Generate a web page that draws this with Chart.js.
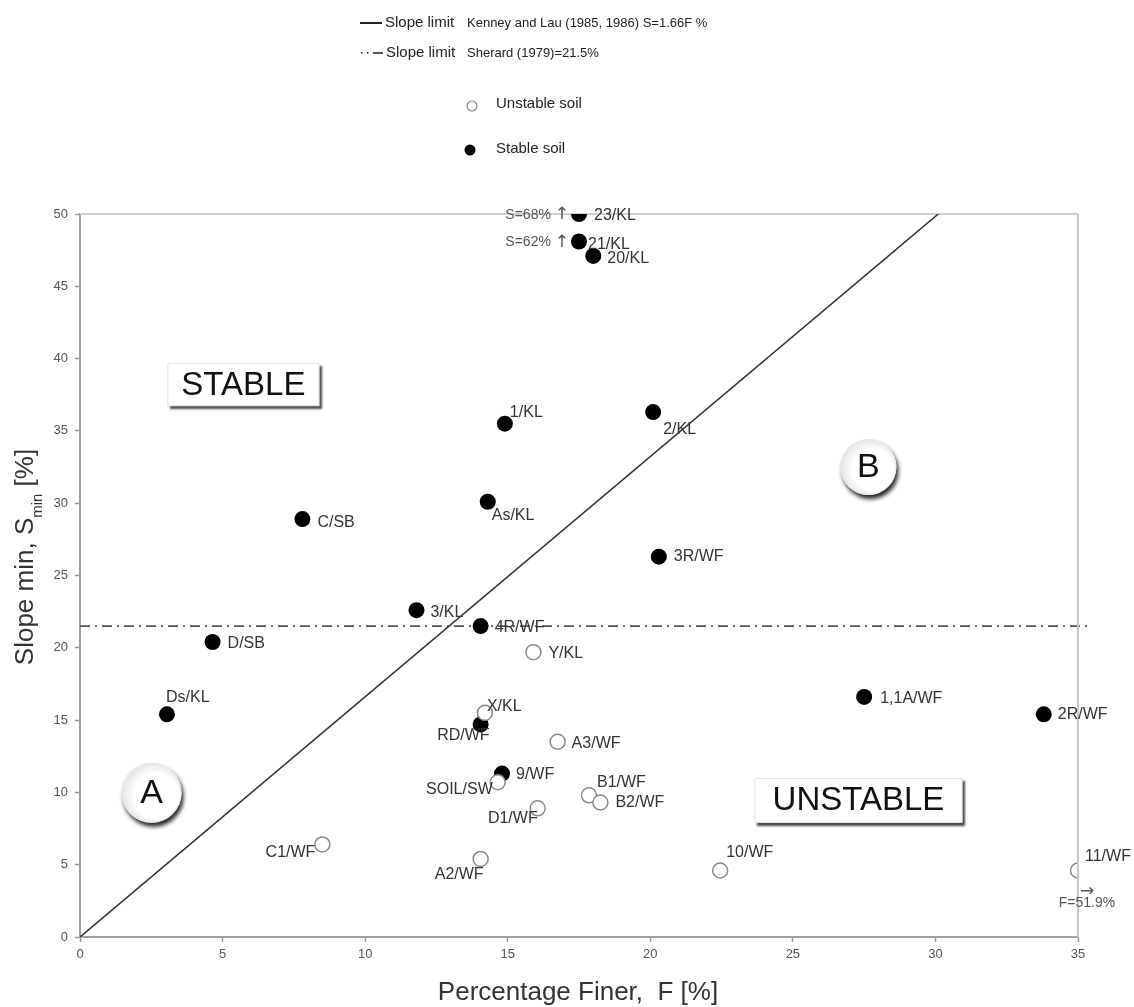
<!DOCTYPE html>
<html>
<head>
<meta charset="utf-8">
<script src="https://cdn.jsdelivr.net/npm/chart.js@4.4.0/dist/chart.umd.min.js"></script>
<style>
  html, body { margin: 0; padding: 0; background: #fff; }
  canvas { display: block; }
</style>
</head>
<body>
<canvas id="soilChart" width="1134" height="1007"></canvas>
<script>
// stable soils (filled circles)
var stableNames = ["23/KL", "21/KL", "20/KL", "1/KL", "2/KL", "As/KL", "C/SB", "3R/WF", "3/KL", "4R/WF", "D/SB", "Ds/KL", "RD/WF", "9/WF", "1,1A/WF", "2R/WF"];
var stableF = [17.5, 17.5, 18.0, 14.9, 20.1, 14.3, 7.8, 20.3, 11.8, 14.05, 4.65, 3.05, 14.05, 14.8, 27.5, 33.8];
var stableS = [50.0, 48.1, 47.1, 35.5, 36.3, 30.1, 28.9, 26.3, 22.6, 21.5, 20.4, 15.4, 14.7, 11.3, 16.6, 15.4];

// unstable soils (open circles)
var unstableNames = ["Y/KL", "X/KL", "A3/WF", "SOIL/SW", "B1/WF", "B2/WF", "D1/WF", "C1/WF", "A2/WF", "10/WF", "11/WF"];
var unstableF = [15.9, 14.2, 16.75, 14.65, 17.85, 18.25, 16.05, 8.5, 14.05, 22.45, 35.0];
var unstableS = [19.7, 15.5, 13.5, 10.7, 9.8, 9.3, 8.9, 6.4, 5.4, 4.6, 4.6];

// off-scale notes
var noteNames = ["23/KL", "21/KL", "11/WF"];
var noteTexts = ["S=68% \u2191", "S=62% \u2191", "\u2192\nF=51.9%"];

// limit lines
var kenneyF = [0, 30.1];
var kenneyS = [0, 50];
var sherardF = [0, 35.4];
var sherardS = [21.5, 21.5];

var xTickValues = [0, 5, 10, 15, 20, 25, 30, 35];
var yTickValues = [0, 5, 10, 15, 20, 25, 30, 35, 40, 45, 50];

// label placement: dx, dy, align (pixels from the point)
var labelPlace = {
  "23/KL": [15, 2, "left"], "21/KL": [9, 3, "left"], "20/KL": [14, 3, "left"],
  "1/KL": [5, -11, "left"], "2/KL": [10, 17, "left"], "As/KL": [4, 14, "left"],
  "C/SB": [15, 3, "left"], "3R/WF": [15, 0, "left"], "3/KL": [14, 2, "left"],
  "4R/WF": [14, 1, "left"], "D/SB": [15, 2, "left"], "Ds/KL": [-1, -17, "left"],
  "RD/WF": [9, 11, "right"], "9/WF": [14, 1, "left"], "1,1A/WF": [16, 2, "left"],
  "2R/WF": [14, 0, "left"], "Y/KL": [15, 1, "left"], "X/KL": [2, -6, "left"],
  "A3/WF": [14, 2, "left"], "SOIL/SW": [-5, 7, "right"], "B1/WF": [8, -13, "left"],
  "B2/WF": [15, 0, "left"], "D1/WF": [0, 10, "right"], "C1/WF": [-7, 8, "right"],
  "A2/WF": [3, 16, "right"], "10/WF": [6, -18, "left"], "11/WF": [7, -14, "left"]
};
var notePlace = {
  "23/KL": [-10, 1, "right"], "21/KL": [-10, 1, "right"], "11/WF": [9, 21, "center"]
};

var labelFont = '16px "Liberation Sans", Arial, sans-serif';
var noteFont = '14px "Liberation Sans", Arial, sans-serif';
var arrowFont = '17px "DejaVu Sans", sans-serif';

function toPoints(xs, ys) {
  return xs.map(function (v, i) { return { x: v, y: ys[i] }; });
}

// draws a string whose arrow characters use a larger font
function drawNote(ctx, text, x, y, align) {
  var runs = [], cur = "";
  for (var i = 0; i < text.length; i++) {
    var c = text.charCodeAt(i);
    if (c >= 0x2190 && c <= 0x21ff) {
      if (cur) runs.push([cur, noteFont]);
      runs.push([text[i], arrowFont]);
      cur = "";
    } else {
      cur += text[i];
    }
  }
  if (cur) runs.push([cur, noteFont]);
  var total = 0;
  runs.forEach(function (r) { ctx.font = r[1]; r.push(ctx.measureText(r[0]).width); total += r[2]; });
  var sx = align === "right" ? x - total : align === "center" ? x - total / 2 : x;
  ctx.textAlign = "left";
  runs.forEach(function (r) {
    ctx.font = r[1];
    ctx.fillText(r[0], sx, y);
    sx += r[2];
  });
}

function shadowBox(ctx, cx, cy, w, h, text) {
  ctx.save();
  ctx.shadowColor = "rgba(0,0,0,0.7)";
  ctx.shadowOffsetX = 3;
  ctx.shadowOffsetY = 3;
  ctx.shadowBlur = 2;
  ctx.fillStyle = "#fff";
  ctx.fillRect(cx - w / 2, cy - h / 2, w, h);
  ctx.restore();
  ctx.save();
  ctx.strokeStyle = "#e2e2e2";
  ctx.lineWidth = 1;
  ctx.strokeRect(cx - w / 2 + 0.5, cy - h / 2 + 0.5, w - 1, h - 1);
  ctx.fillStyle = "#111";
  ctx.font = '33px "Liberation Sans", Arial, sans-serif';
  ctx.textAlign = "center";
  ctx.textBaseline = "middle";
  ctx.fillText(text, cx, cy + 1);
  ctx.restore();
}

function shadowCircle(ctx, cx, cy, r, text) {
  ctx.save();
  ctx.shadowColor = "rgba(0,0,0,0.85)";
  ctx.shadowOffsetX = 2;
  ctx.shadowOffsetY = 4;
  ctx.shadowBlur = 4;
  ctx.beginPath();
  ctx.arc(cx, cy, r, 0, Math.PI * 2);
  ctx.fillStyle = "#fff";
  ctx.fill();
  ctx.restore();
  ctx.save();
  var g = ctx.createRadialGradient(cx + 5, cy + 3, r * 0.75, cx, cy, r);
  g.addColorStop(0, "rgba(255,255,255,1)");
  g.addColorStop(1, "rgba(228,228,228,1)");
  ctx.beginPath();
  ctx.arc(cx, cy, r, 0, Math.PI * 2);
  ctx.fillStyle = g;
  ctx.fill();
  ctx.fillStyle = "#111";
  ctx.font = '34px "Liberation Sans", Arial, sans-serif';
  ctx.textAlign = "center";
  ctx.textBaseline = "middle";
  ctx.fillText(text, cx, cy + 1);
  ctx.restore();
}

var soilPlugin = {
  id: "soilPlugin",
  beforeDatasetsDraw: function (chart) {
    var ctx = chart.ctx, a = chart.chartArea;
    ctx.save();
    ctx.strokeStyle = "#cfcfcf";
    ctx.lineWidth = 2;
    ctx.beginPath();
    ctx.moveTo(a.left, a.top);
    ctx.lineTo(a.right, a.top);
    ctx.stroke();
    ctx.restore();

    var xs = chart.scales.x, ys = chart.scales.y;
    shadowBox(ctx, xs.getPixelForValue(5.73), ys.getPixelForValue(38.2), 152, 43, "STABLE");
    shadowBox(ctx, xs.getPixelForValue(27.3), ys.getPixelForValue(9.45), 208, 45, "UNSTABLE");
    shadowCircle(ctx, xs.getPixelForValue(2.51), ys.getPixelForValue(9.97), 30, "A");
    shadowCircle(ctx, xs.getPixelForValue(27.65), ys.getPixelForValue(32.5), 28, "B");
  },
  afterDatasetsDraw: function (chart) {
    var ctx = chart.ctx, a = chart.chartArea;
    var xs = chart.scales.x, ys = chart.scales.y;

    ctx.save();
    ctx.strokeStyle = "#c8c8c8";
    ctx.lineWidth = 2;
    ctx.beginPath();
    ctx.moveTo(a.right, a.top);
    ctx.lineTo(a.right, a.bottom);
    ctx.stroke();
    ctx.restore();

    var names = stableNames.concat(unstableNames);
    var fs = stableF.concat(unstableF);
    var ss = stableS.concat(unstableS);

    ctx.save();
    ctx.fillStyle = "#333";
    ctx.font = labelFont;
    ctx.textBaseline = "middle";
    names.forEach(function (n, i) {
      var p = labelPlace[n];
      ctx.textAlign = p[2];
      ctx.fillText(n, xs.getPixelForValue(fs[i]) + p[0], ys.getPixelForValue(ss[i]) + p[1]);
    });

    ctx.fillStyle = "#555";
    noteNames.forEach(function (n, i) {
      var k = names.indexOf(n);
      var p = notePlace[n];
      var lines = noteTexts[i].split("\n");
      lines.forEach(function (t, j) {
        drawNote(ctx, t, xs.getPixelForValue(fs[k]) + p[0], ys.getPixelForValue(ss[k]) + p[1] + j * 12, p[2]);
      });
    });
    ctx.restore();
  },
  afterDraw: function (chart) {
    var ctx = chart.ctx;
    ctx.save();
    ctx.fillStyle = "#222";
    ctx.strokeStyle = "#222";
    ctx.textBaseline = "middle";
    ctx.textAlign = "left";

    // legend: limit lines
    ctx.lineWidth = 2;
    ctx.beginPath();
    ctx.moveTo(360, 23);
    ctx.lineTo(382, 23);
    ctx.stroke();
    ctx.font = '15px "Liberation Sans", Arial, sans-serif';
    ctx.fillText("Slope limit", 385, 23);
    ctx.font = '13px "Liberation Sans", Arial, sans-serif';
    ctx.fillText("Kenney and Lau (1985, 1986) S=1.66F %", 467, 23);

    ctx.fillRect(361, 52, 1.5, 1.5);
    ctx.fillRect(367, 52, 1.5, 1.5);
    ctx.beginPath();
    ctx.lineWidth = 1.5;
    ctx.moveTo(373, 53);
    ctx.lineTo(383, 53);
    ctx.stroke();
    ctx.font = '15px "Liberation Sans", Arial, sans-serif';
    ctx.fillText("Slope limit", 386, 53);
    ctx.font = '13px "Liberation Sans", Arial, sans-serif';
    ctx.fillText("Sherard (1979)=21.5%", 467, 53);

    // legend: markers
    ctx.beginPath();
    ctx.arc(472, 106, 5, 0, Math.PI * 2);
    ctx.strokeStyle = "#888";
    ctx.lineWidth = 1.2;
    ctx.stroke();
    ctx.beginPath();
    ctx.arc(470, 150, 5.5, 0, Math.PI * 2);
    ctx.fillStyle = "#000";
    ctx.fill();
    ctx.fillStyle = "#222";
    ctx.font = '15px "Liberation Sans", Arial, sans-serif';
    ctx.fillText("Unstable soil", 496, 104);
    ctx.fillText("Stable soil", 496, 149);

    // axis titles
    ctx.fillStyle = "#333";
    ctx.font = '26px "Liberation Sans", Arial, sans-serif';
    ctx.textAlign = "center";
    ctx.textBaseline = "alphabetic";
    ctx.fillText("Percentage Finer,  F [%]", 578, 1000);

    ctx.translate(33, 557);
    ctx.rotate(-Math.PI / 2);
    ctx.textAlign = "left";
    var big = '26px "Liberation Sans", Arial, sans-serif';
    var small = '15px "Liberation Sans", Arial, sans-serif';
    ctx.font = big;
    var w1 = ctx.measureText("Slope min, S").width;
    var w3 = ctx.measureText(" [%]").width;
    ctx.font = small;
    var w2 = ctx.measureText("min").width;
    var x0 = -(w1 + w2 + w3) / 2;
    ctx.font = big;
    ctx.fillText("Slope min, S", x0, 0);
    ctx.font = small;
    ctx.fillText("min", x0 + w1, 9);
    ctx.font = big;
    ctx.fillText(" [%]", x0 + w1 + w2, 0);
    ctx.restore();
  }
};

new Chart("soilChart", {
  type: "scatter",
  data: {
    datasets: [{
      label: "Unstable soil",
      data: toPoints(unstableF, unstableS),
      pointRadius: 7.5,
      pointBorderWidth: 1.5,
      pointBorderColor: "#8a8a8a",
      pointBackgroundColor: "#fff",
      order: 0
    }, {
      label: "Stable soil",
      data: toPoints(stableF, stableS),
      pointRadius: 8,
      pointBorderWidth: 0,
      pointBorderColor: "#000",
      pointBackgroundColor: "#000",
      order: 1
    }, {
      label: "Slope limit Kenney and Lau",
      data: toPoints(kenneyF, kenneyS),
      showLine: true,
      borderColor: "#333",
      borderWidth: 1.6,
      pointRadius: 0,
      order: 2
    }, {
      label: "Slope limit Sherard",
      data: toPoints(sherardF, sherardS),
      showLine: true,
      borderColor: "#555",
      borderWidth: 1.6,
      borderDash: [10, 5, 2, 5],
      pointRadius: 0,
      clip: false,
      order: 3
    }]
  },
  options: {
    responsive: false,
    animation: false,
    events: [],
    layout: { padding: { top: 214, right: 56, left: 0, bottom: 0 } },
    plugins: {
      legend: { display: false },
      tooltip: { enabled: false }
    },
    scales: {
      x: {
        type: "linear",
        min: 0,
        max: 35,
        afterBuildTicks: function (scale) {
          scale.ticks = xTickValues.map(function (v) { return { value: v }; });
        },
        afterFit: function (scale) { scale.height = 70; },
        ticks: {
          color: "#555",
          padding: 5,
          maxRotation: 0,
          font: { family: '"Liberation Sans", Arial, sans-serif', size: 13 }
        },
        grid: { drawOnChartArea: false, tickLength: 5, tickColor: "#999", tickWidth: 1.5 },
        border: { color: "#a0a0a0", width: 2 }
      },
      y: {
        type: "linear",
        min: 0,
        max: 50,
        afterBuildTicks: function (scale) {
          scale.ticks = yTickValues.map(function (v) { return { value: v }; });
        },
        afterFit: function (scale) { scale.width = 80; },
        ticks: {
          color: "#555",
          padding: 7,
          font: { family: '"Liberation Sans", Arial, sans-serif', size: 13 }
        },
        grid: { drawOnChartArea: false, tickLength: 5, tickColor: "#999", tickWidth: 1.5 },
        border: { color: "#a0a0a0", width: 2 }
      }
    }
  },
  plugins: [soilPlugin]
});
</script>
</body>
</html>
